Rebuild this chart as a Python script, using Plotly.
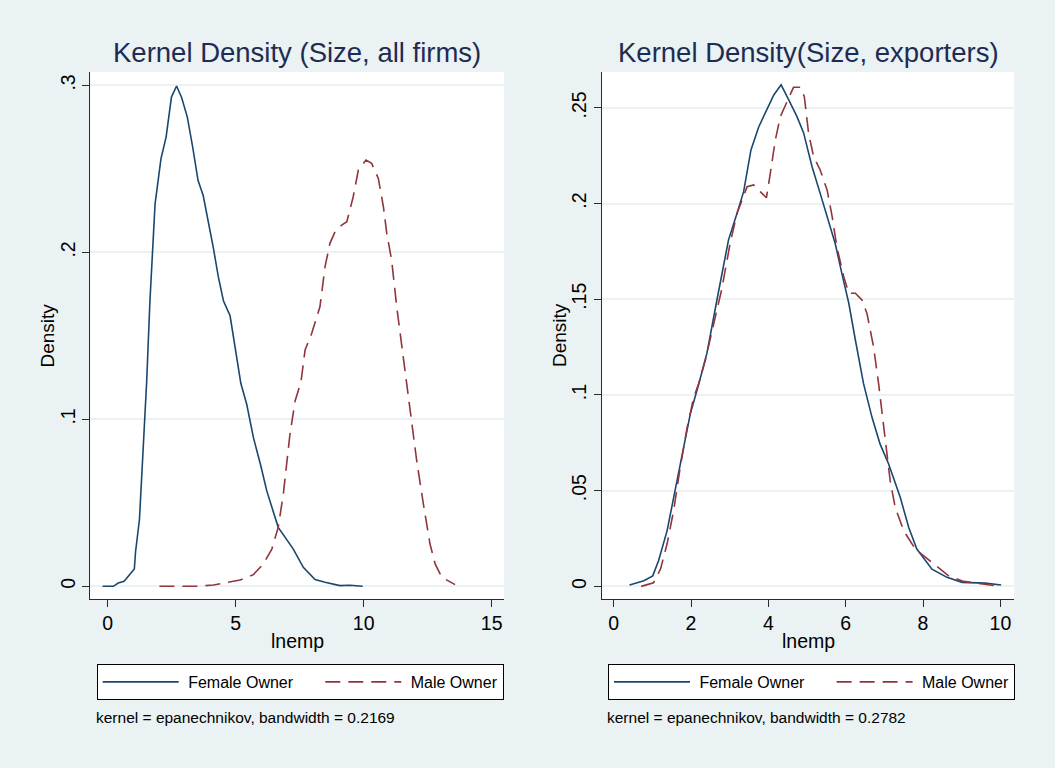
import plotly.graph_objects as go

# ---------------- data: left panel (all firms) ----------------
all_female_x = [-0.2, 0.22, 0.41, 0.64, 1.04, 1.09, 1.24, 1.39, 1.52, 1.65, 1.85, 2.08, 2.28,
                2.49, 2.69, 2.89, 3.11, 3.32, 3.53, 3.73, 3.93, 4.13, 4.32, 4.52, 4.78, 4.97,
                5.2, 5.43, 5.69, 5.98, 6.21, 6.66, 7.25, 7.64, 8.1, 8.49, 9.07, 9.46, 9.96]
all_female_y = [0.0, 0.0, 0.002, 0.003, 0.0104, 0.021, 0.040, 0.081, 0.122, 0.171, 0.229, 0.256, 0.269,
                0.293, 0.2996, 0.2926, 0.281, 0.263, 0.243, 0.234, 0.219, 0.2024, 0.1854, 0.171, 0.162, 0.1435,
                0.1216, 0.109, 0.0892, 0.0722, 0.0573, 0.0353, 0.0223, 0.0114, 0.004, 0.0024, 0.0004, 0.0006, 0.0]

all_male_x = [2.02, 3.48, 4.13, 4.78, 5.17, 5.69, 6.08, 6.41, 6.66, 6.86, 7.12, 7.32, 7.55, 7.71,
              7.97, 8.29, 8.49, 8.68, 8.88, 9.14, 9.34, 9.59, 9.79, 10.09, 10.31, 10.57, 10.77,
              10.9, 11.09, 11.29, 11.48, 11.68, 11.81, 12.07, 12.33, 12.59, 12.79, 13.05, 13.57]
all_male_y = [0.0, 0.0, 0.0008, 0.0024, 0.0038, 0.007, 0.0134, 0.0223, 0.0353, 0.0553, 0.0912, 0.111, 0.1225, 0.1415,
              0.1515, 0.1674, 0.1914, 0.2054, 0.2123, 0.2163, 0.2183, 0.2333, 0.2493, 0.2553, 0.2533, 0.2443, 0.2273,
              0.2114, 0.1954, 0.1674, 0.1455, 0.1216, 0.1072, 0.0752, 0.0493, 0.0253, 0.0134, 0.0054, 0.001]

# ---------------- data: right panel (exporters) ----------------
exp_female_x = [0.41, 0.78, 1.01, 1.16, 1.38, 1.59, 1.77, 1.98, 2.2, 2.41, 2.67, 2.97, 3.19, 3.36,
                3.55, 3.75, 4.14, 4.33, 4.53, 4.74, 4.91, 5.13, 5.34, 5.73, 5.9, 6.08, 6.25, 6.46,
                6.68, 6.89, 7.11, 7.41, 7.63, 7.84, 8.23, 8.62, 9.01, 9.61, 10.02]
exp_female_y = [0.0007, 0.0029, 0.0055, 0.0134, 0.029, 0.05, 0.069, 0.090, 0.1057, 0.1217, 0.1496, 0.181, 0.1949, 0.2062,
                0.228, 0.240, 0.2567, 0.262, 0.254, 0.2454, 0.237, 0.2192, 0.2053, 0.179, 0.1635, 0.1479, 0.1287, 0.106,
                0.0883, 0.0743, 0.0639, 0.0465, 0.0308, 0.0195, 0.009, 0.0047, 0.0021, 0.0017, 0.0007]

exp_male_x = [0.71, 1.03, 1.21, 1.38, 1.55, 1.72, 1.9, 2.07, 2.2, 2.37, 2.63, 2.79, 3.01, 3.19, 3.45,
              3.62, 3.79, 3.95, 4.05, 4.18, 4.31, 4.53, 4.65, 4.83, 4.93, 5.04, 5.17, 5.34, 5.52,
              5.65, 5.77, 5.95, 6.08, 6.25, 6.42, 6.55, 6.72, 6.85, 7.02, 7.15, 7.28, 7.5, 7.8,
              8.23, 8.66, 9.05, 9.57, 10.0]
exp_male_y = [0.0, 0.0019, 0.009, 0.0221, 0.0395, 0.0622, 0.083, 0.0987, 0.106, 0.1182, 0.1409, 0.1548, 0.179, 0.1949, 0.2088,
              0.2097, 0.2062, 0.203, 0.2158, 0.2332, 0.2454, 0.2558, 0.2607, 0.2607, 0.2558, 0.2367, 0.2245, 0.2175, 0.207,
              0.1931, 0.1774, 0.1618, 0.1531, 0.1531, 0.1496, 0.1426, 0.1252, 0.106, 0.0778, 0.0552, 0.0413, 0.029, 0.0195,
              0.0125, 0.0055, 0.0026, 0.001, 0.0]

# ---------------- tick labels / text ----------------
left_xticks = [0, 5, 10, 15]
left_yticks = [0, 0.1, 0.2, 0.3]
left_yticklabels = ["0", ".1", ".2", ".3"]
right_xticks = [0, 2, 4, 6, 8, 10]
right_yticks = [0, 0.05, 0.1, 0.15, 0.2, 0.25]
right_yticklabels = ["0", ".05", ".1", ".15", ".2", ".25"]
series_names = ["Female Owner", "Male Owner"]
titles = ["Kernel Density (Size, all firms)", "Kernel Density(Size, exporters)"]
notes = ["kernel = epanechnikov, bandwidth = 0.2169", "kernel = epanechnikov, bandwidth = 0.2782"]
xlabel = "lnemp"
ylabel = "Density"

# ---------------- style ----------------
W, H = 1055, 768
BG = "#EAF2F3"
NAVY = "#1A476F"
MAROON = "#90353B"
TITLE_C = "#1E2C52"
AX = "#2b2b2b"
FONT = "Liberation Sans, Arial, sans-serif"
LEAD = "\u00a0"       # small gap between legend key and label
PAD = "\u00a0" * 5    # spacing between legend entries


def lname(i):
    return LEAD + series_names[i] + (PAD if i == 0 else "")


fig = go.Figure()
fig.add_trace(go.Scatter(x=all_female_x, y=all_female_y, mode="lines", name=lname(0),
                         line=dict(color=NAVY, width=1.6), xaxis="x", yaxis="y", legend="legend"))
fig.add_trace(go.Scatter(x=all_male_x, y=all_male_y, mode="lines", name=lname(1),
                         line=dict(color=MAROON, width=1.6, dash="15px,8px"), xaxis="x", yaxis="y", legend="legend"))
fig.add_trace(go.Scatter(x=exp_female_x, y=exp_female_y, mode="lines", name=lname(0),
                         line=dict(color=NAVY, width=1.6), xaxis="x2", yaxis="y2", legend="legend2"))
fig.add_trace(go.Scatter(x=exp_male_x, y=exp_male_y, mode="lines", name=lname(1),
                         line=dict(color=MAROON, width=1.6, dash="15px,8px"), xaxis="x2", yaxis="y2", legend="legend2"))

ydom = [1 - 599 / H, 1 - 72 / H]
xdom1 = [90.3 / W, 504 / W]
xdom2 = [601.7 / W, 1014.3 / W]

xcommon = dict(showline=True, linecolor=AX, linewidth=1, ticks="outside", ticklen=7, tickcolor=AX,
               tickwidth=1, showgrid=False, zeroline=False,
               tickfont=dict(size=19.5, color="black", family=FONT))
ycommon = dict(showline=True, linecolor=AX, linewidth=1, ticks="outside", ticklen=7, tickcolor=AX,
               tickwidth=1, showgrid=True, gridcolor=BG, gridwidth=1.5, zeroline=False,
               tickangle=-90, tickfont=dict(size=19.5, color="black", family=FONT))

legend_common = dict(orientation="h", bgcolor="white", bordercolor="black", borderwidth=1,
                     font=dict(size=16, color="black", family=FONT), xanchor="left", yanchor="top",
                     itemwidth=76, traceorder="normal")

fig.update_layout(
    width=W, height=H,
    margin=dict(l=0, r=0, t=0, b=0, autoexpand=False),
    paper_bgcolor=BG, plot_bgcolor="white",
    font=dict(family=FONT, color="black"),
    xaxis=dict(domain=xdom1, range=[-0.68, 15.48], tickvals=left_xticks, anchor="y", **xcommon),
    yaxis=dict(domain=ydom, range=[-0.0076, 0.308], tickvals=left_yticks, ticktext=left_yticklabels,
               anchor="x", **ycommon),
    xaxis2=dict(domain=xdom2, range=[-0.31, 10.36], tickvals=right_xticks, anchor="y2", **xcommon),
    yaxis2=dict(domain=ydom, range=[-0.0066, 0.2687], tickvals=right_yticks, ticktext=right_yticklabels,
                anchor="x2", **ycommon),
    legend=dict(x=96.7 / W, y=1 - 664 / H, **legend_common),
    legend2=dict(x=608 / W, y=1 - 664 / H, **legend_common),
)

annots = []
for i, (xr, yr) in enumerate([("x domain", "y domain"), ("x2 domain", "y2 domain")]):
    annots.append(dict(text=titles[i], xref=xr, yref="paper", x=0.5, y=1 - 52 / H,
                       xanchor="center", yanchor="middle", showarrow=False,
                       font=dict(size=27.5, color=TITLE_C, family=FONT)))
    annots.append(dict(text=xlabel, xref=xr, yref="paper", x=0.5, y=1 - 640.7 / H,
                       xanchor="center", yanchor="middle", showarrow=False,
                       font=dict(size=19.5, color="black", family=FONT)))
    annots.append(dict(text=ylabel, xref="paper", yref=yr, x=[47 / W, 559.5 / W][i], y=0.5,
                       xanchor="center", yanchor="middle", showarrow=False, textangle=-90,
                       font=dict(size=19, color="black", family=FONT)))
    annots.append(dict(text=notes[i], xref="paper", yref="paper", x=[94 / W, 604.7 / W][i], y=1 - 717 / H,
                       xanchor="left", yanchor="middle", showarrow=False,
                       font=dict(size=15.5, color="black", family=FONT)))
fig.update_layout(annotations=annots)

fig.write_html("out.html", config={"displayModeBar": False},
               post_script="document.body.style.margin='0';")
